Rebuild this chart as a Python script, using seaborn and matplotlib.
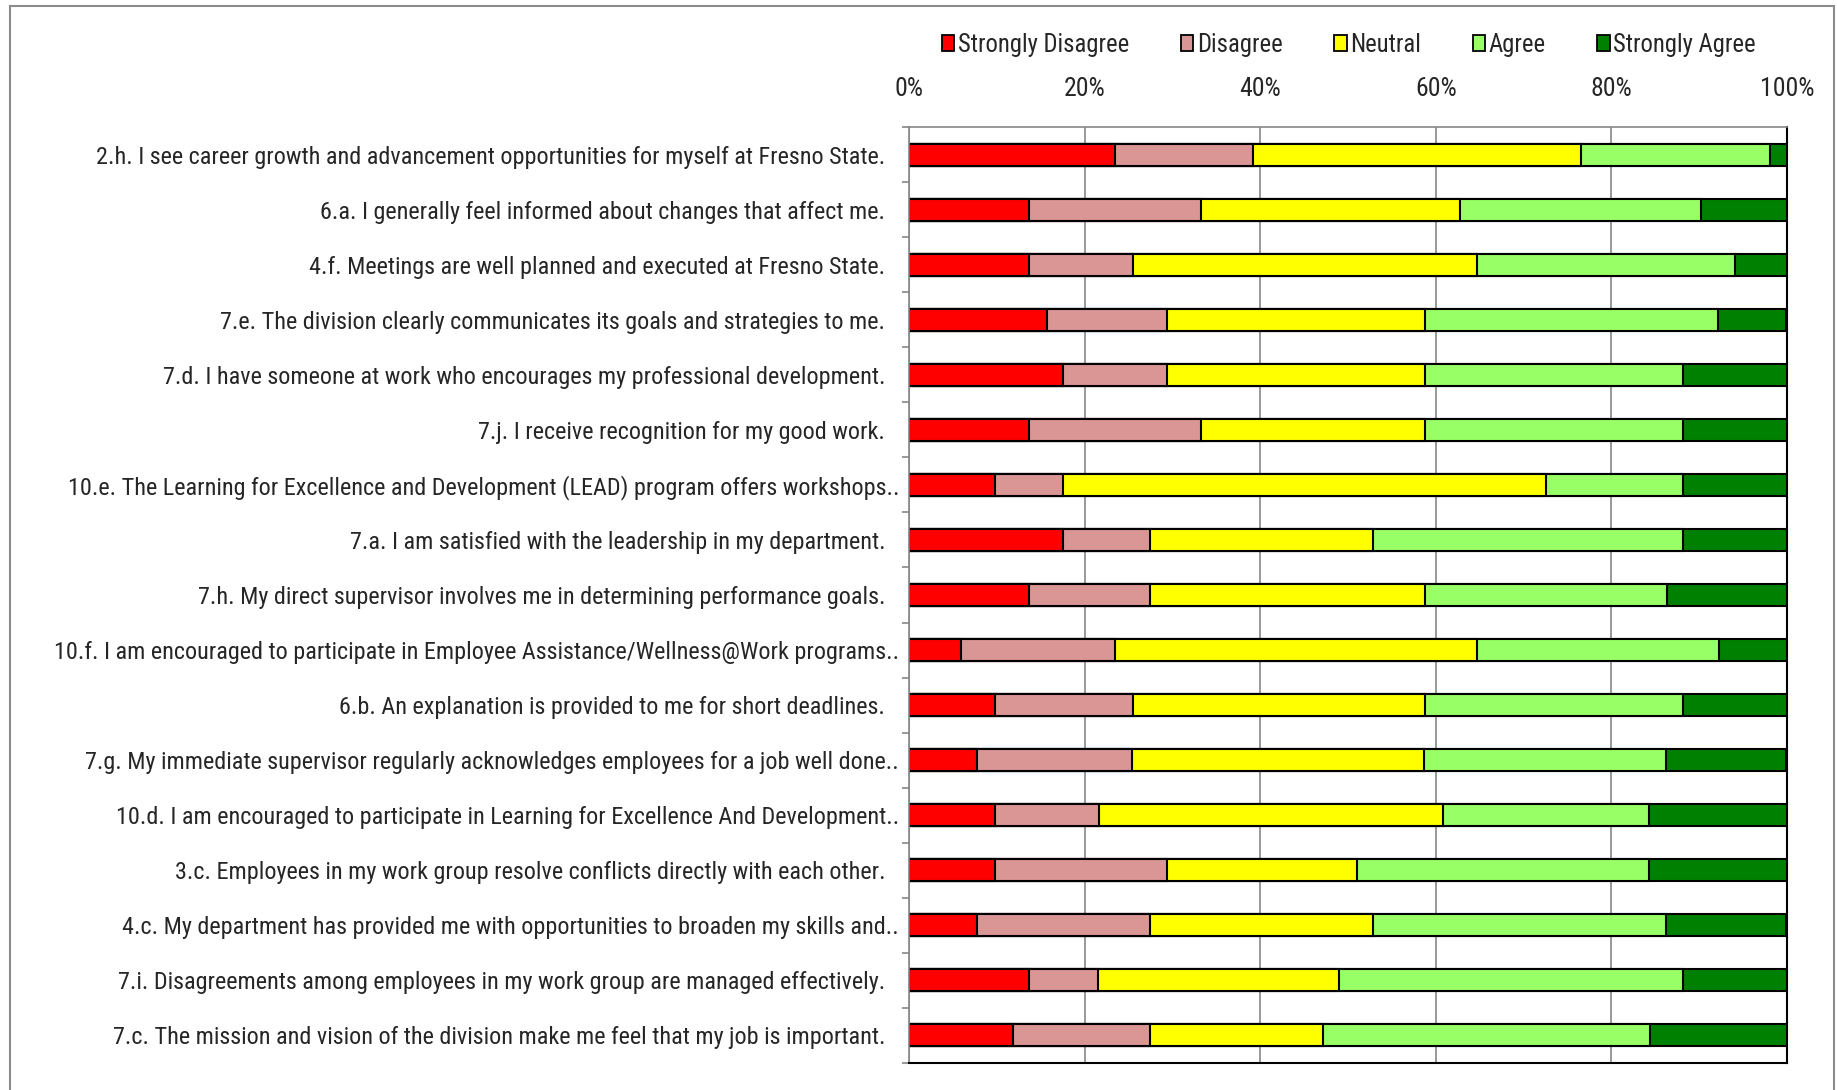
import numpy as np
import pandas as pd
import matplotlib
matplotlib.use("Agg")
import matplotlib.pyplot as plt
from matplotlib import font_manager
from matplotlib.patches import Patch, Rectangle
from matplotlib.ticker import FixedLocator
import seaborn as sns


# survey items, top to bottom
questions = [
    "2.h. I see career growth and advancement opportunities for myself at Fresno State.",
    "6.a. I generally feel informed about changes that affect me.",
    "4.f. Meetings are well planned and executed at Fresno State.",
    "7.e. The division clearly communicates its goals and strategies to me.",
    "7.d. I have someone at work who encourages my professional development.",
    "7.j. I receive recognition for my good work.",
    "10.e. The Learning for Excellence and Development (LEAD) program offers workshops..",
    "7.a. I am satisfied with the leadership in my department.",
    "7.h. My direct supervisor involves me in determining performance goals.",
    "10.f. I am encouraged to participate in Employee Assistance/Wellness@Work programs..",
    "6.b. An explanation is provided to me for short deadlines.",
    "7.g. My immediate supervisor regularly acknowledges employees for a job well done..",
    "10.d. I am encouraged to participate in Learning for Excellence And Development..",
    "3.c. Employees in my work group resolve conflicts directly with each other.",
    "4.c. My department has provided me with opportunities to broaden my skills and..",
    "7.i. Disagreements among employees in my work group are managed effectively.",
    "7.c. The mission and vision of the division make me feel that my job is important.",
]

# percent of responses
strongly_disagree = [23.5, 13.7, 13.7, 15.7, 17.6, 13.7, 9.8, 17.6, 13.7, 5.9, 9.8, 7.8, 9.8, 9.8, 7.8, 13.7, 11.8]
disagree          = [15.7, 19.6, 11.8, 13.7, 11.8, 19.6, 7.8, 9.8, 13.7, 17.6, 15.7, 17.6, 11.8, 19.6, 19.6, 7.8, 15.7]
neutral           = [37.3, 29.4, 39.2, 29.4, 29.4, 25.5, 54.9, 25.5, 31.4, 41.2, 33.3, 33.3, 39.2, 21.6, 25.5, 27.5, 19.6]
agree             = [21.6, 27.5, 29.4, 33.3, 29.4, 29.4, 15.7, 35.3, 27.5, 27.5, 29.4, 27.5, 23.5, 33.3, 33.3, 39.2, 37.3]
strongly_agree    = [2.0, 9.8, 5.9, 7.8, 11.8, 11.8, 11.8, 11.8, 13.7, 7.8, 11.8, 13.7, 15.7, 15.7, 13.7, 11.8, 15.7]

levels = ["Strongly Disagree", "Disagree", "Neutral", "Agree", "Strongly Agree"]
colors = ["#FF0000", "#D99694", "#FFFF00", "#99FF66", "#008000"]
xticks = [0, 20, 40, 60, 80, 100]
xtick_labels = ["0%", "20%", "40%", "60%", "80%", "100%"]

sns.set_style("white")

# a narrow font if there is one, otherwise a smaller regular one
installed = {f.name for f in font_manager.fontManager.ttflist}
if "Liberation Sans Narrow" in installed:
    main_font, label_size, tick_size, legend_size = "Liberation Sans Narrow", 16.5, 17, 17
elif "Roboto Condensed" in installed:
    main_font, label_size, tick_size, legend_size = "Roboto Condensed", 17.4, 18.5, 17.7
else:
    main_font, label_size, tick_size, legend_size = "Liberation Sans", 15.5, 16, 16
plt.rcParams["font.family"] = [main_font, "DejaVu Sans"]

df = pd.DataFrame(
    [strongly_disagree, disagree, neutral, agree, strongly_agree],
    index=levels, columns=questions,
).T
cum = df.cumsum(axis=1)

fig = plt.figure(figsize=(18.37, 10.90), dpi=100)
ax = fig.add_axes([0.4948, 0.0248, 0.478, 0.8587])

# stacked bars: draw the cumulative totals from the longest down
for level, color in zip(levels[::-1], colors[::-1]):
    sns.barplot(
        x=cum[level].values, y=questions, order=questions,
        color=color, saturation=1, width=0.4,
        edgecolor="black", linewidth=1.5, orient="h", ax=ax,
    )

ax.set_xlim(0, 100)
ax.set_ylim(len(questions) - 0.5, -0.5)
ax.set_xlabel("")
ax.set_ylabel("")

# x axis on top
ax.xaxis.tick_top()
ax.set_xticks(xticks)
ax.set_xticklabels(xtick_labels, fontsize=tick_size)
ax.tick_params(axis="x", length=0, pad=19)
ax.grid(axis="x", color="#868686", linewidth=1.2)
ax.set_axisbelow(True)

# category boundaries as small tick marks
ax.yaxis.set_minor_locator(FixedLocator(np.arange(-0.5, len(questions), 1.0)))
ax.tick_params(axis="y", which="minor", length=5, width=1.2, color="#868686", direction="out", left=True)
ax.tick_params(axis="y", which="major", length=0, labelsize=label_size)

for side in ["top", "left"]:
    ax.spines[side].set_color("#868686")
    ax.spines[side].set_linewidth(1.2)
for side in ["bottom", "right"]:
    ax.spines[side].set_color("black")
    ax.spines[side].set_linewidth(1.5)

# truncated labels sit closer to the axis
for tick, q in zip(ax.yaxis.get_major_ticks(), questions):
    tick.set_pad(7 if q.endswith("..") else 17)

handles = [Patch(facecolor=c, edgecolor="black", linewidth=1.3) for c in colors]
fig.legend(
    handles, levels, loc="center", bbox_to_anchor=(0.7344, 0.959),
    ncol=5, frameon=False, fontsize=legend_size, handlelength=0.5, handleheight=0.6,
    handletextpad=0.15, columnspacing=2.1,
)

# outer chart border
fig.patches.append(Rectangle((0.0055, -0.05), 0.9928, 1.0445, transform=fig.transFigure,
                             fill=False, edgecolor="#8c8c8c", linewidth=1.5))

fig.savefig("out.png", dpi=100)
